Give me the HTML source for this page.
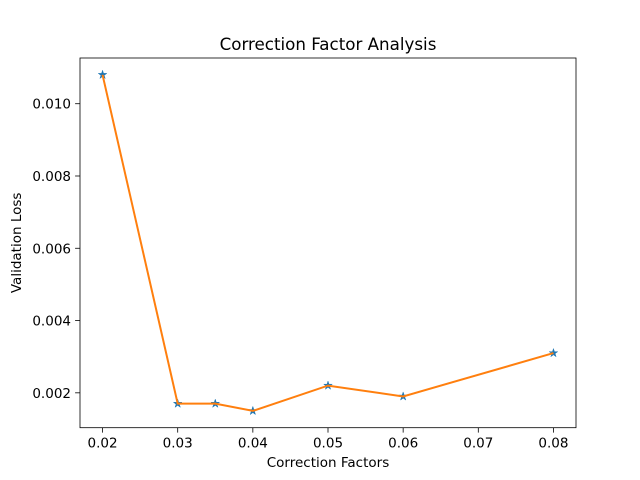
<!DOCTYPE html>
<html><head><meta charset="utf-8"><style>
body{margin:0;background:#fff;}
svg{display:block;font-family:"DejaVu Sans","Liberation Sans",sans-serif;}
</style></head><body>
<svg id="chart" width="640" height="480" viewBox="0 0 640 480">
<rect width="640" height="480" fill="#fff"/>
<g id="plot"></g>
</svg>
<script>
const categories=[0.02,0.03,0.035,0.04,0.05,0.06,0.08];
const lossValues=[0.0108,0.0017,0.0017,0.0015,0.0022,0.0019,0.0031];
const xTicks=[0.02,0.03,0.04,0.05,0.06,0.07,0.08];
const yTicks=[0.002,0.004,0.006,0.008,0.010];
const L=80,R=576,T=58,B=427.7;
const xmin=Math.min(...categories),xmax=Math.max(...categories),xp=(xmax-xmin)*0.05;
const ymin=Math.min(...lossValues),ymax=Math.max(...lossValues),yp=(ymax-ymin)*0.05;
const X0=xmin-xp,X1=xmax+xp,Y0=ymin-yp,Y1=ymax+yp;
const sx=v=>L+(v-X0)/(X1-X0)*(R-L);
const sy=v=>B-(v-Y0)/(Y1-Y0)*(B-T);
const NS="http://www.w3.org/2000/svg";
const g=document.getElementById('plot');
function mk(t,a,txt){const e=document.createElementNS(NS,t);for(const k in a)e.setAttribute(k,a[k]);if(txt!==undefined)e.textContent=txt;g.appendChild(e);return e;}
let e;
e=mk('rect',{x:L,y:T,width:R-L,height:B-T,fill:'none',stroke:'#000','stroke-width':0.8});


xTicks.forEach(v=>{const x=sx(v);
e=mk('line',{x1:x,x2:x,y1:B,y2:B+4.9,stroke:'#000','stroke-width':0.8});


e=mk('text',{x:x,y:B+20,'font-size':13.5,'text-anchor':'middle'},v.toFixed(2));

});
yTicks.forEach(v=>{const y=sy(v);
e=mk('line',{x1:L-4.9,x2:L,y1:y,y2:y,stroke:'#000','stroke-width':0.8});


e=mk('text',{x:L-9,y:y+5,'font-size':13.5,'text-anchor':'end'},v.toFixed(3));

});
function star(cx,cy,r){let p=[];for(let i=0;i<10;i++){const a=-Math.PI/2+i*Math.PI/5;const rr=i%2?r*0.38:r;p.push((cx+rr*Math.cos(a)).toFixed(2)+','+(cy+rr*Math.sin(a)).toFixed(2));}return p.join(' ');}
categories.forEach((v,i)=>{
e=mk('polygon',{points:star(sx(v),sy(lossValues[i]),4.5),fill:'#1f77b4',stroke:'#1f77b4','stroke-width':0.5});

});
e=mk('polyline',{points:categories.map((v,i)=>sx(v)+','+sy(lossValues[i])).join(' '),fill:'none',stroke:'#ff7f0e','stroke-width':2});


e=mk('text',{x:(L+R)/2,y:T-8,'font-size':16.7,'text-anchor':'middle'},'Correction Factor Analysis');


e=mk('text',{x:(L+R)/2,y:467,'font-size':13.5,'text-anchor':'middle'},'Correction Factors');


e=mk('text',{x:21,y:(T+B)/2,'font-size':13.5,'text-anchor':'middle',transform:'rotate(-90 21 '+((T+B)/2)+')'},'Validation Loss');


</script>
</body></html>
